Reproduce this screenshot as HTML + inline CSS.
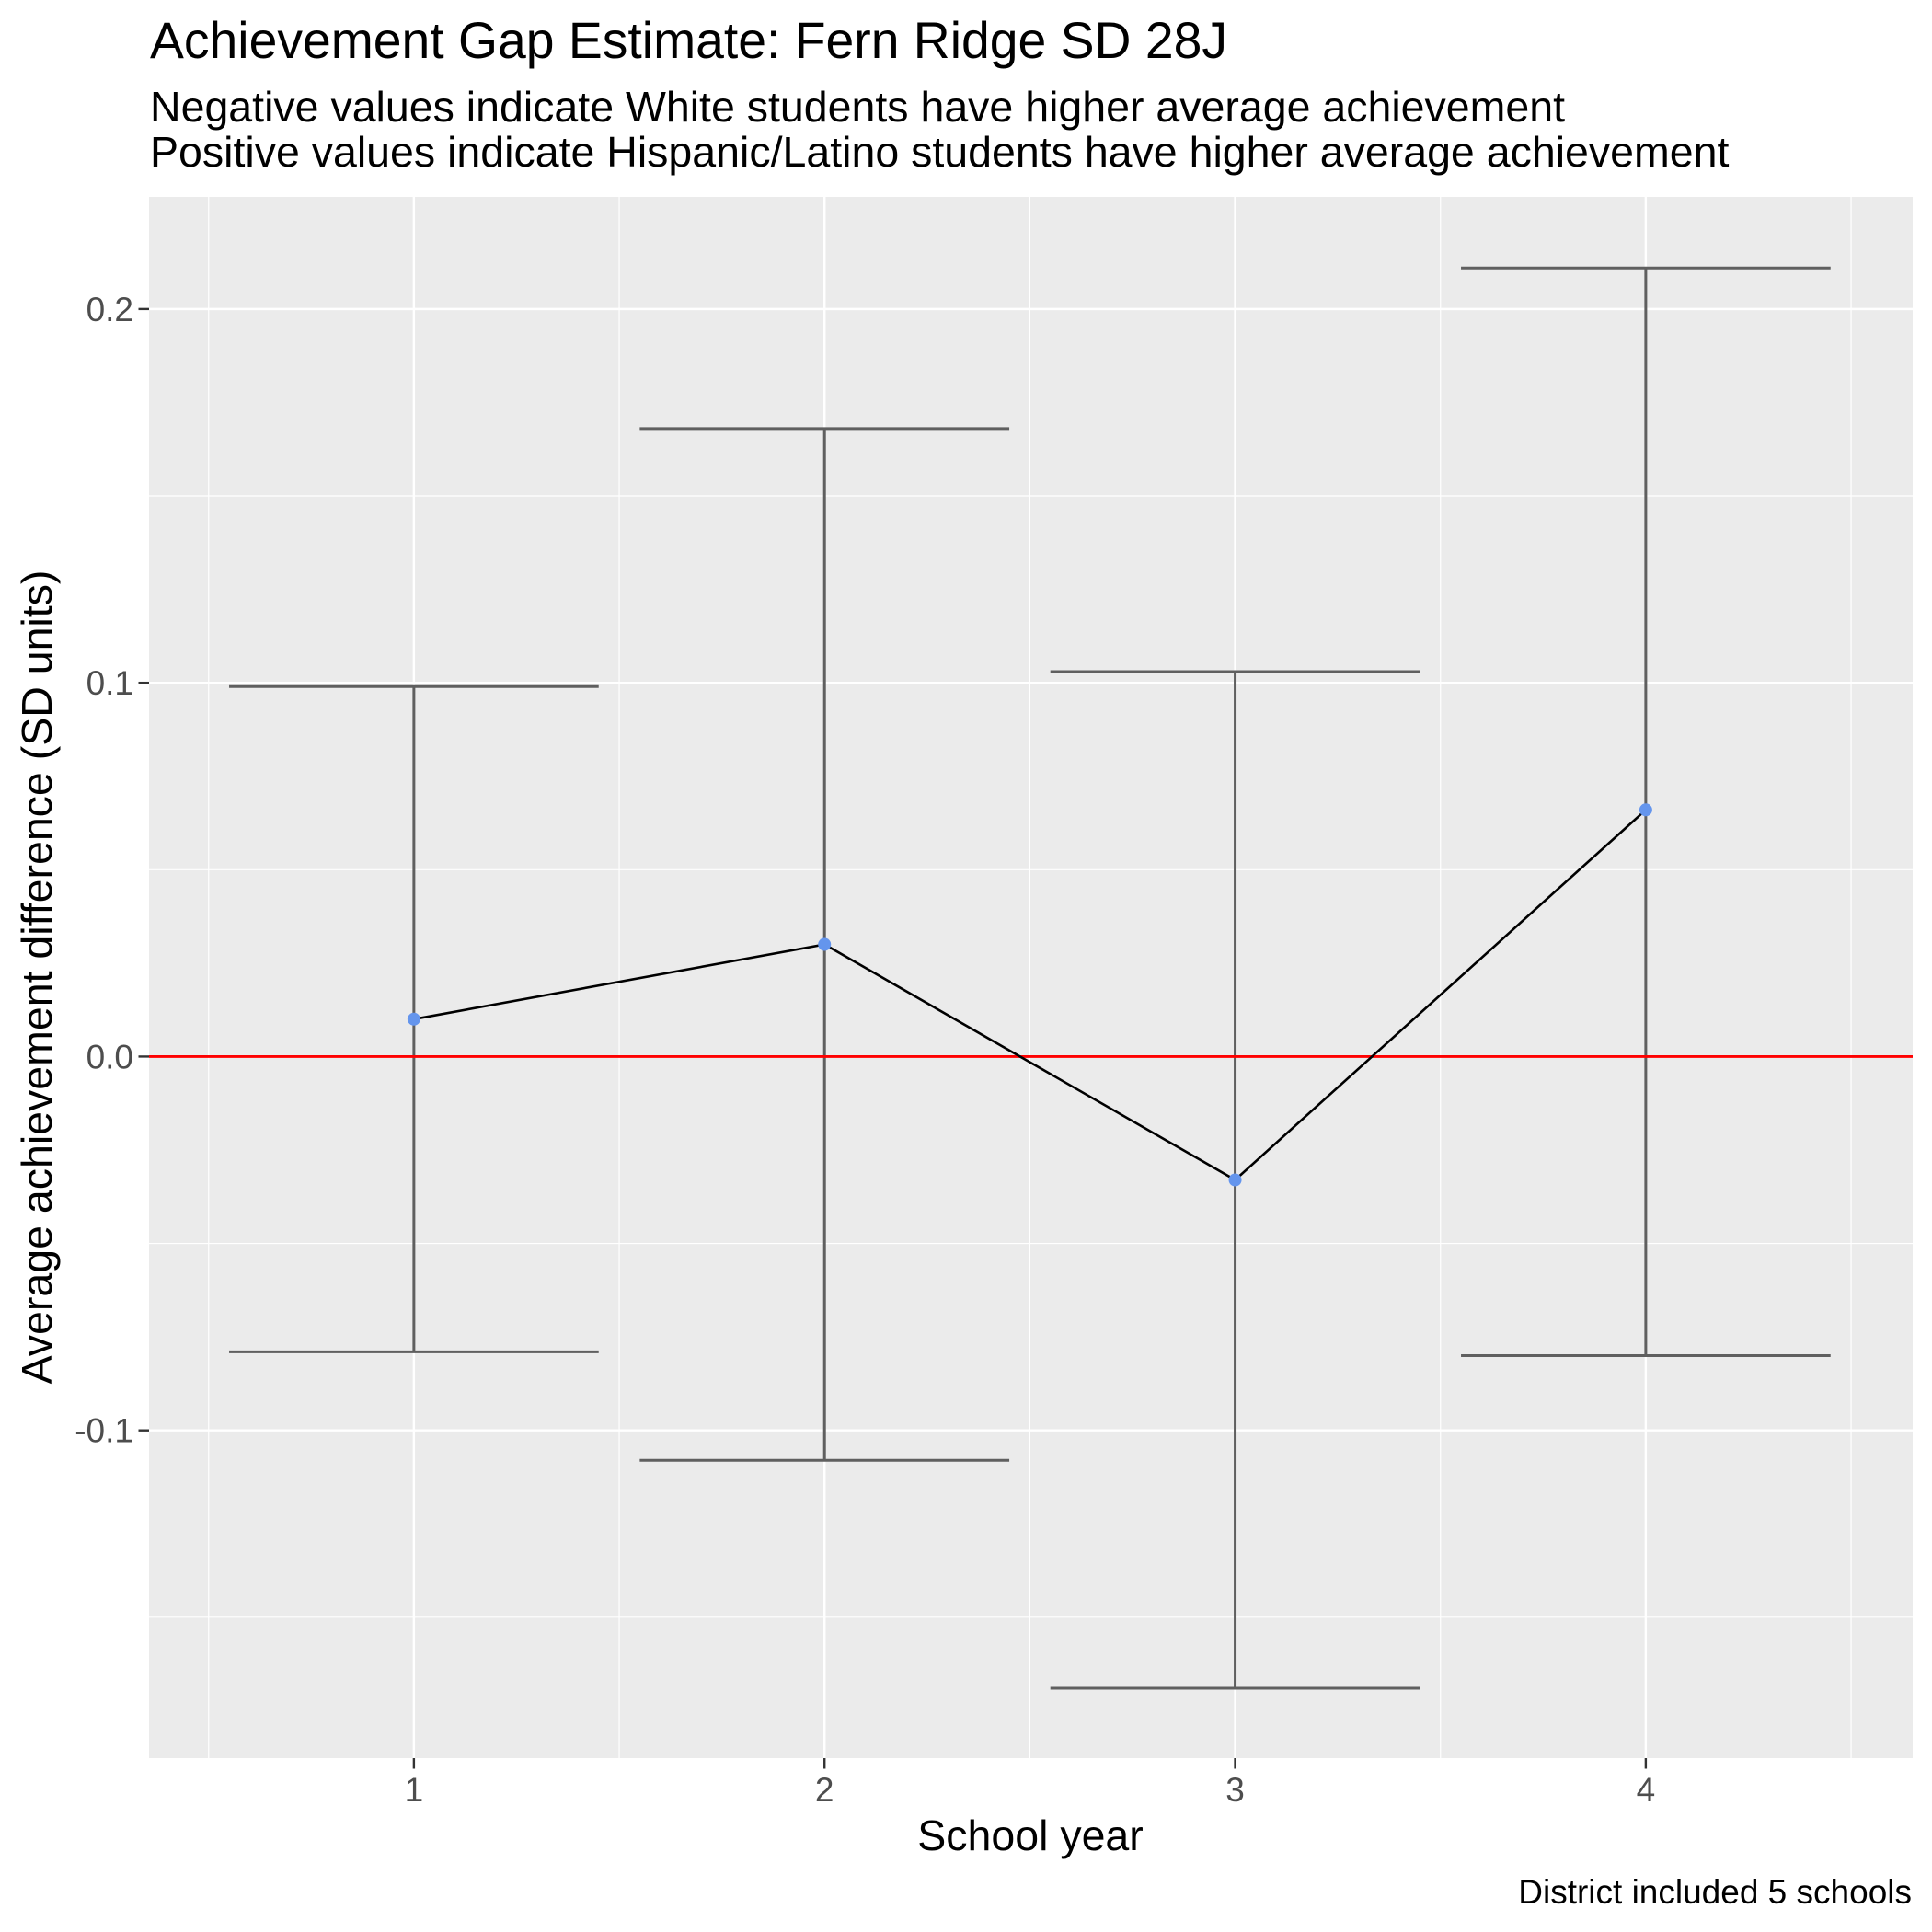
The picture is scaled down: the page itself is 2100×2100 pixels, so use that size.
<!DOCTYPE html>
<html><head><meta charset="utf-8"><style>
html,body{margin:0;padding:0;background:#fff}
svg{display:block;font-family:"Liberation Sans",Arial,sans-serif}
</style></head><body>
<svg id="chart" width="2100" height="2100" viewBox="0 0 2100 2100">
<text x="163" y="63" font-size="55.3" fill="#000">Achievement Gap Estimate: Fern Ridge SD 28J</text>
<text x="163" y="132" font-size="46.5" fill="#000">Negative values indicate White students have higher average achievement</text>
<text x="163" y="181" font-size="46.5" fill="#000">Positive values indicate Hispanic/Latino students have higher average achievement</text>
<rect x="162" y="214" width="1917" height="1697" fill="#EBEBEB"/>
<g id="grid"></g>
<g id="marks"></g>
<g id="axes"></g>
<text x="1120" y="2011" font-size="46.5" text-anchor="middle" fill="#000">School year</text>
<text transform="translate(56,1062) rotate(-90)" font-size="46.5" text-anchor="middle" fill="#000">Average achievement difference (SD units)</text>
<text x="2078" y="2069" font-size="37" text-anchor="end" fill="#000">District included 5 schools</text>
</svg>
<script>
const years = [1, 2, 3, 4];
const estimates = [0.010, 0.030, -0.033, 0.066];
const upper = [0.099, 0.168, 0.103, 0.211];
const lower = [-0.079, -0.108, -0.169, -0.080];
const yTicks = [-0.1, 0.0, 0.1, 0.2];
const yTickLabels = ["-0.1", "0.0", "0.1", "0.2"];
const yMinor = [-0.15, -0.05, 0.05, 0.15];
const xMinor = [0.5, 1.5, 2.5, 3.5, 4.5];

const NS = "http://www.w3.org/2000/svg";
const P = {l:162, r:2079, t:214, b:1911};
const xMin = 0.355, xMax = 4.65, yMin = -0.1877, yMax = 0.23;
const sx = v => P.l + (v - xMin) / (xMax - xMin) * (P.r - P.l);
const sy = v => P.b - (v - yMin) / (yMax - yMin) * (P.b - P.t);
function mk(tag, attrs, parent) {
  const e = document.createElementNS(NS, tag);
  for (const k in attrs) e.setAttribute(k, attrs[k]);
  document.getElementById(parent).appendChild(e);
  return e;
}
yMinor.forEach(v => { const e = mk('line', {x1:P.l, x2:P.r, y1:sy(v), y2:sy(v), stroke:'#fff', 'stroke-width':1.2}, 'grid');
  
   });
xMinor.forEach(v => { const e = mk('line', {x1:sx(v), x2:sx(v), y1:P.t, y2:P.b, stroke:'#fff', 'stroke-width':1.2}, 'grid');
  
   });
yTicks.forEach(v => { const e = mk('line', {x1:P.l, x2:P.r, y1:sy(v), y2:sy(v), stroke:'#fff', 'stroke-width':2.4}, 'grid');
  
   });
years.forEach(v => { const e = mk('line', {x1:sx(v), x2:sx(v), y1:P.t, y2:P.b, stroke:'#fff', 'stroke-width':2.4}, 'grid');
  
   });
const hw = 0.45;
years.forEach((yr, i) => {
  const d = `M${sx(yr-hw)},${sy(upper[i])}H${sx(yr+hw)}M${sx(yr)},${sy(upper[i])}V${sy(lower[i])}M${sx(yr-hw)},${sy(lower[i])}H${sx(yr+hw)}`;
  const e = mk('path', {d:d, stroke:'#5f5f5f', 'stroke-width':3, fill:'none'}, 'marks');
  
  
});
const z = mk('line', {x1:P.l, x2:P.r, y1:sy(0), y2:sy(0), stroke:'#FF0000', 'stroke-width':2.8}, 'marks');


const pl = mk('polyline', {points: years.map((yr,i)=>sx(yr)+','+sy(estimates[i])).join(' '), stroke:'#000', 'stroke-width':2.6, fill:'none'}, 'marks');


years.forEach((yr, i) => {
  const c = mk('circle', {cx:sx(yr), cy:sy(estimates[i]), r:7, fill:'#6495ED'}, 'marks');
  
  
});
yTicks.forEach((v, i) => {
  const t = mk('line', {x1:P.l-11.5, x2:P.l, y1:sy(v), y2:sy(v), stroke:'#333', 'stroke-width':2.4}, 'axes');
  
  
  const l = mk('text', {x:145, y:sy(v)+13, 'font-size':37, 'text-anchor':'end', fill:'#4D4D4D'}, 'axes');
  l.textContent = yTickLabels[i];
  
  
});
years.forEach(yr => {
  const t = mk('line', {x1:sx(yr), x2:sx(yr), y1:P.b, y2:P.b+11.5, stroke:'#333', 'stroke-width':2.4}, 'axes');
  
  
  const l = mk('text', {x:sx(yr), y:1958, 'font-size':37, 'text-anchor':'middle', fill:'#4D4D4D'}, 'axes');
  l.textContent = String(yr);
  
  
});
</script>
</body></html>
